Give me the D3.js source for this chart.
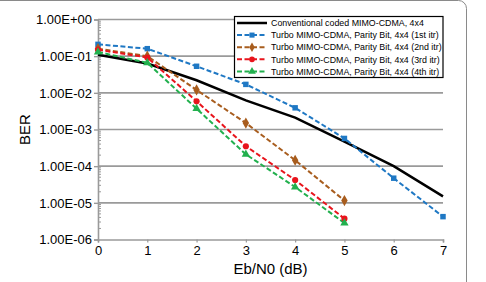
<!DOCTYPE html>
<html>
<head>
<meta charset="utf-8">
<script src="https://cdn.jsdelivr.net/npm/d3@7"></script>
<style>
  body { margin: 0; background: #fff; }
  svg { display: block; font-family: "Liberation Sans", Arial, sans-serif; }
</style>
</head>
<body>
<svg id="chart" width="486" height="282"></svg>
<script>
const ebn0 = [0, 1, 2, 3, 4, 5, 6, 7];
const yTicks = [1, 1e-1, 1e-2, 1e-3, 1e-4, 1e-5, 1e-6];
const xTicks = [0, 1, 2, 3, 4, 5, 6, 7];

const conventional = [0.11, 0.063, 0.022, 0.0062, 0.0021, 0.00047, 0.0001, 1.5e-5];
const itr1 = [0.21, 0.16, 0.053, 0.017, 0.0039, 0.00057, 4.7e-5, 4.2e-6];
const itr2 = [0.16, 0.1, 0.012, 0.0015, 0.000145, 1.15e-5];
const itr3 = [0.15, 0.092, 0.0059, 0.00035, 4.2e-5, 3.7e-6];
const itr4 = [0.13, 0.066, 0.0037, 0.00021, 2.7e-5, 2.8e-6];

const seriesNames = [
  "Conventional coded MIMO-CDMA, 4x4",
  "Turbo MIMO-CDMA, Parity Bit, 4x4 (1st itr)",
  "Turbo MIMO-CDMA, Parity Bit, 4x4 (2nd itr)",
  "Turbo MIMO-CDMA, Parity Bit, 4x4 (3rd itr)",
  "Turbo MIMO-CDMA, Parity Bit, 4x4 (4th itr)"
];

const series = [
  { name: seriesNames[0], values: conventional, color: "#000000", dash: null, marker: null, width: 2.5 },
  { name: seriesNames[1], values: itr1, color: "#1f78c4", dash: "5,2.5", marker: d3.symbolSquare, width: 2 },
  { name: seriesNames[2], values: itr2, color: "#a85d1e", dash: "5,2.5", marker: d3.symbolDiamond, width: 2 },
  { name: seriesNames[3], values: itr3, color: "#e8141c", dash: "5,2.5", marker: d3.symbolCircle, width: 2 },
  { name: seriesNames[4], values: itr4, color: "#22b04e", dash: "5,2.5", marker: d3.symbolTriangle, width: 2 }
];

const svg = d3.select("#chart");
const margin = { top: 19.5, left: 98, right: 43, bottom: 42.5 };
const width = 486, height = 282;

const x = d3.scaleLinear().domain([0, 7]).range([margin.left, width - margin.right]);
const y = d3.scaleLog().domain([1e-6, 1]).range([height - margin.bottom, margin.top]);

// outer frame
svg.append("rect")
  .attr("x", -10).attr("y", 0.5)
  .attr("width", 476.5).attr("height", 300)
  .attr("rx", 8)
  .attr("fill", "none").attr("stroke", "#8a8a8a").attr("stroke-width", 1);

// grid
svg.append("g")
  .selectAll("line")
  .data(yTicks.slice(0, -1))
  .join("line")
  .attr("x1", x(0)).attr("x2", x(7))
  .attr("y1", d => y(d)).attr("y2", d => y(d))
  .attr("stroke", "#9a9a9a").attr("stroke-width", 1.6);

// minor ticks on y axis
const minor = [];
for (let e = -6; e < 0; e++) for (let m = 2; m <= 9; m++) minor.push(m * Math.pow(10, e));
svg.append("g")
  .selectAll("line")
  .data(minor)
  .join("line")
  .attr("x1", x(0)).attr("x2", x(0) + 3)
  .attr("y1", d => y(d)).attr("y2", d => y(d))
  .attr("stroke", "#9a9a9a").attr("stroke-width", 1);

// y axis
const yAxis = svg.append("g")
  .attr("transform", `translate(${x(0)},0)`)
  .call(d3.axisLeft(y).tickValues(yTicks).tickSize(4).tickPadding(2)
    .tickFormat(d => d3.format(".2e")(d).replace("e", "E").replace(/E([+-])(\d)$/, "E$10$2")));
yAxis.select(".domain").attr("stroke", "#9a9a9a").attr("stroke-width", 1.6);
yAxis.selectAll(".tick line").attr("stroke", "#9a9a9a").attr("stroke-width", 1.4);
yAxis.selectAll("text").attr("font-size", "13px").attr("fill", "#000").attr("font-family", "Liberation Sans, Arial, sans-serif");

// x axis
const xAxis = svg.append("g")
  .attr("transform", `translate(0,${y(1e-6)})`)
  .call(d3.axisBottom(x).tickValues(xTicks).tickSize(3).tickPadding(3).tickFormat(d3.format("d")));
xAxis.select(".domain").attr("stroke", "#9a9a9a").attr("stroke-width", 1.6);
xAxis.selectAll(".tick line").attr("stroke", "#9a9a9a").attr("stroke-width", 1.2);
xAxis.selectAll("text").attr("font-size", "13px").attr("fill", "#000").attr("font-family", "Liberation Sans, Arial, sans-serif");

// axis titles
svg.append("text")
  .attr("x", (x(0) + x(7)) / 2).attr("y", 274)
  .attr("text-anchor", "middle").attr("font-size", "15px")
  .text("Eb/N0 (dB)");
svg.append("text")
  .attr("transform", `translate(30,${(y(1) + y(1e-6)) / 2}) rotate(-90)`)
  .attr("text-anchor", "middle").attr("font-size", "15px")
  .text("BER");

// lines
const line = d3.line().x((d, i) => x(ebn0[i])).y(d => y(d));
const plot = svg.append("g");
series.forEach(s => {
  plot.append("path")
    .datum(s.values)
    .attr("d", line)
    .attr("fill", "none")
    .attr("stroke", s.color)
    .attr("stroke-width", s.width)
    .attr("stroke-dasharray", s.dash);
});
series.forEach(s => {
  if (!s.marker) return;
  plot.append("g").selectAll("path")
    .data(s.values)
    .join("path")
    .attr("transform", (d, i) => `translate(${x(ebn0[i])},${y(d)})`)
    .attr("d", d3.symbol().type(s.marker).size(s.marker === d3.symbolDiamond ? 36 : 30))
    .attr("fill", s.color);
});

// legend
const lg = svg.append("g");
lg.append("rect")
  .attr("x", 234.5).attr("y", 16.5)
  .attr("width", 208.5).attr("height", 61)
  .attr("fill", "#fff").attr("stroke", "#000").attr("stroke-width", 1.2);
series.forEach((s, i) => {
  const cy = 23 + i * 12.1;
  lg.append("line")
    .attr("x1", 237).attr("x2", 267)
    .attr("y1", cy).attr("y2", cy)
    .attr("stroke", s.color).attr("stroke-width", s.width)
    .attr("stroke-dasharray", s.dash);
  if (s.marker) {
    lg.append("path")
      .attr("transform", `translate(252,${cy})`)
      .attr("d", d3.symbol().type(s.marker).size(26))
      .attr("fill", s.color);
  }
  lg.append("text")
    .attr("x", 271).attr("y", cy + 3.2)
    .attr("font-size", "8.85px")
    .text(s.name);
});
</script>
</body>
</html>
